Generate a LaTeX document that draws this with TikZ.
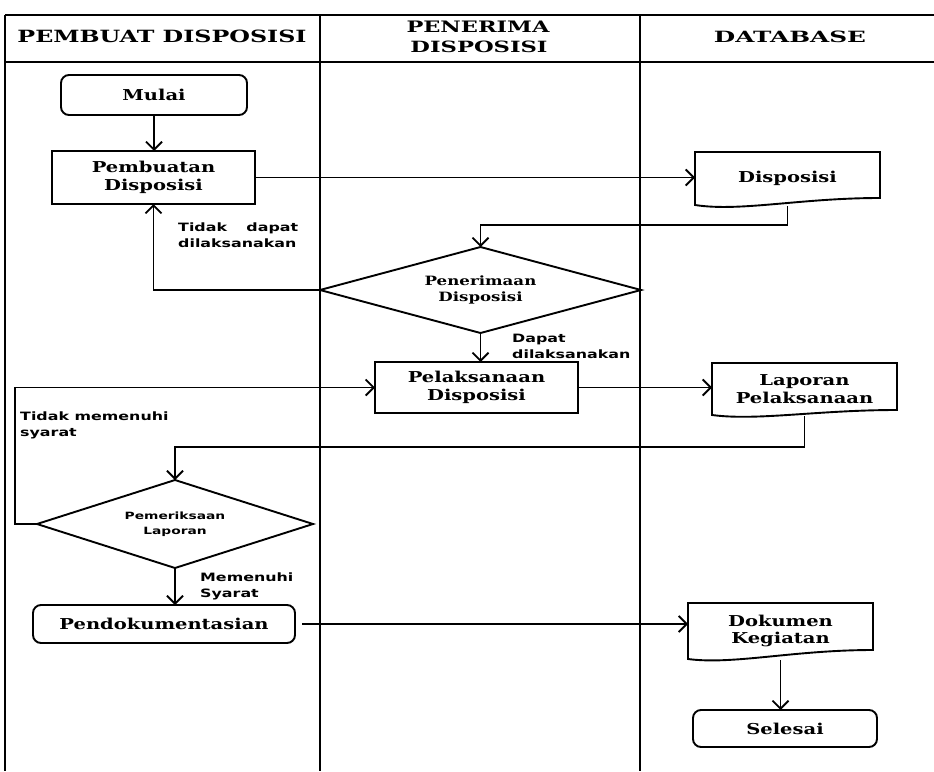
\documentclass[tikz,border=0pt]{standalone}
\usepackage{fontspec}
\usepackage{graphicx}
\usetikzlibrary{arrows.meta}
\newfontfamily\nodefont[FakeStretch=1.3]{DejaVu Serif}
\newfontfamily\headfont{DejaVu Serif}
\newfontfamily\labfont[FakeStretch=1.38]{DejaVu Sans}
\begin{document}
\begin{tikzpicture}[x=1pt,y=-1pt,
  lane/.style={line width=1.9pt},
  boxline/.style={line width=1.9pt, line join=miter},
  conn/.style={line width=1.8pt},
  arr/.style={conn,-{Straight Barb[length=8pt,width=16pt,line width=1.8pt]}},
  base/.style={inner sep=0pt, outer sep=0pt, align=center, font=\nodefont\bfseries\fontsize{15}{17.5}\selectfont},
  pbox/.style={base, draw, line width=1.9pt},
  rbox/.style={base, draw, line width=1.9pt, rounded corners=8pt},
  plain/.style={base},
  head/.style={inner sep=0pt, font=\headfont\bfseries},
  lab/.style={inner sep=0pt, align=left, anchor=west, font=\labfont\bfseries\fontsize{11.5}{16}\selectfont}
]
\useasboundingbox (0,0) rectangle (934,771);
% lanes
\draw[lane] (5,15) -- (934,15);
\draw[lane] (5,62) -- (934,62);
\draw[lane] (5,15) -- (5,771);
\draw[lane] (320,15) -- (320,771);
\draw[lane] (640,15) -- (640,771);
% headers
\node[head] (h1) at (162,36) {\resizebox{289pt}{12.5pt}{PEMBUAT DISPOSISI}};
\node[head] (h2a) at (478,27) {\resizebox{143pt}{11.5pt}{PENERIMA}};
\node[head] (h2b) at (479,47) {\resizebox{137pt}{11.5pt}{DISPOSISI}};
\node[head] (h3) at (790,37) {\resizebox{152pt}{11.5pt}{DATABASE}};
% nodes
\node[rbox, minimum width=186pt, minimum height=40pt] (mulai) at (154,95) {Mulai};
\node[pbox, minimum width=203pt, minimum height=53pt] (buat) at (153.5,177.5) {Pembuatan\\Disposisi};
\node[plain, minimum width=185pt, minimum height=53pt] (disp) at (787.5,178.5) {Disposisi};
\node[plain, minimum width=321pt, minimum height=86pt, font=\nodefont\bfseries\fontsize{12.8}{15.5}\selectfont] (terima) at (480.5,290) {Penerimaan\\Disposisi};
\node[pbox, minimum width=203pt, minimum height=51pt] (laks) at (476.5,387.5) {Pelaksanaan\\Disposisi};
\node[plain, minimum width=185pt, minimum height=52pt] (lap) at (804.5,389) {Laporan\\Pelaksanaan};
\node[plain, minimum width=276pt, minimum height=88pt, font=\labfont\bfseries\fontsize{10}{15}\selectfont] (periksa) at (175,524) {Pemeriksaan\\Laporan};
\node[rbox, minimum width=262pt, minimum height=38pt] (dok) at (164,624) {Pendokumentasian};
\node[plain, minimum width=185pt, minimum height=56pt] (dokkeg) at (780.5,631) {Dokumen\\Kegiatan};
\node[rbox, minimum width=184pt, minimum height=37pt] (selesai) at (785,728.5) {Selesai};
% document shapes
\draw[boxline] (disp.south west) -- (disp.north west) -- (disp.north east) -- ([yshift=7pt]disp.south east) .. controls +(-80,0) and +(45,7) .. (disp.south west) -- cycle;
\draw[boxline] (lap.south west) -- (lap.north west) -- (lap.north east) -- ([yshift=5pt]lap.south east) .. controls +(-80,0) and +(45,6) .. (lap.south west) -- cycle;
\draw[boxline] (dokkeg.south west) -- (dokkeg.north west) -- (dokkeg.north east) -- ([yshift=9pt]dokkeg.south east) .. controls +(-80,0) and +(45,6) .. (dokkeg.south west) -- cycle;
% diamonds
\draw[boxline] (terima.west) -- (terima.north) -- (terima.east) -- (terima.south) -- cycle;
\draw[boxline] (periksa.west) -- (periksa.north) -- (periksa.east) -- (periksa.south) -- cycle;
% helper coordinates
\coordinate (j1) at (0,225);
\coordinate (j2) at (0,447);
\coordinate (j3) at (15,0);
% connectors
\draw[arr] (mulai.south) -- (mulai.south |- buat.north);
\draw[arr] (buat.east) -- (buat.east -| disp.west);
\draw[arr] ([yshift=-1pt]disp.south) -- (disp.south |- j1) -- (terima.north |- j1) -- (terima.north);
\draw[arr] (terima.west) -| (buat.south);
\draw[arr] (terima.south) -- (terima.south |- laks.north);
\draw[arr] (laks.east) -- (laks.east -| lap.west);
\draw[arr] ([yshift=-1pt]lap.south) -- (lap.south |- j2) -- (periksa.north |- j2) -- (periksa.north);
\draw[arr] (periksa.west) -- (periksa.west -| j3) -- (j3 |- laks.west) -- (laks.west);
\draw[arr] (periksa.south) -- (periksa.south |- dok.north);
\draw[arr, shorten <=7pt] (dok.east) -- (dok.east -| dokkeg.west);
\draw[arr] ([yshift=-1pt]dokkeg.south) -- (dokkeg.south |- selesai.north);
% labels
\node[lab] (l1) at (178,235) {\makebox[120pt][s]{Tidak dapat}\\dilaksanakan};
\node[lab] (l2) at (512,346) {Dapat\\dilaksanakan};
\node[lab] (l3) at (20,425.5) {Tidak memenuhi\\syarat};
\node[lab] (l4) at (200,586) {Memenuhi\\Syarat};
\end{tikzpicture}
\end{document}
